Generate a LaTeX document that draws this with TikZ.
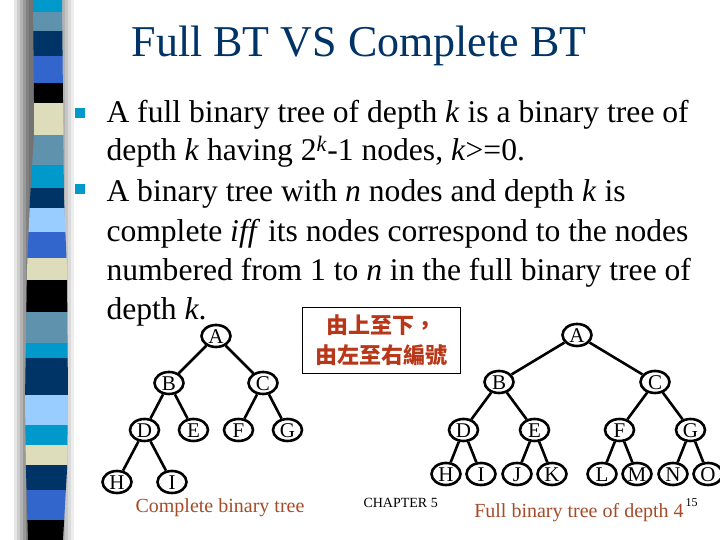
\documentclass[tikz,border=0pt]{standalone}
\usepackage{fontspec}
\setmainfont{Liberation Serif}
\newfontfamily\cjk{Noto Sans CJK TC}
\usetikzlibrary{positioning,shapes}

\definecolor{titleblue}{HTML}{003366}
\definecolor{bulletblue}{HTML}{0099CC}
\definecolor{capbrown}{RGB}{165,75,40}
\definecolor{cjkred}{RGB}{185,55,25}
\definecolor{stripecyan}{HTML}{0099CC}
\definecolor{stripesteel}{HTML}{5F93AD}
\definecolor{stripenavy}{HTML}{003366}
\definecolor{striperoyal}{HTML}{3366CC}
\definecolor{stripeblack}{HTML}{000000}
\definecolor{stripebeige}{HTML}{DDDDBB}
\definecolor{stripelight}{HTML}{99CCFF}

\begin{document}
\begin{tikzpicture}[
  x=1pt, y=1pt,
  tnode/.style={shape=ellipse, draw, line width=2.6pt, minimum width=29pt, minimum height=22pt,
    inner sep=0pt, text height=15pt, text depth=0pt, font=\fontsize{21}{21}\selectfont},
  bodytext/.style={anchor=base west, font=\fontsize{31.6}{38}\selectfont},
  caption/.style={anchor=base, text=capbrown, font=\fontsize{20}{24}\selectfont},
  bulletsq/.style={fill=bulletblue, minimum size=10pt, inner sep=0pt}
]
  \useasboundingbox (0,0) rectangle (720,540);
  \fill[white] (0,0) rectangle (720,540);

  % Side stripe with its shadow
  \foreach \xs/\g in {14/10, 17/20, 20/30, 23/40, 26/50}
    \fill[black!\g] (\xs,0) rectangle (\xs+3,540);
  \fill[black!55] (29,0) rectangle (36,540);
  \foreach \xs/\g in {62/30, 65/22, 68/14, 71/7}
    \fill[black!\g] (\xs,0) rectangle (\xs+3,540);
  \begin{scope}
    \clip (33,540) -- (34,440) -- (34,405) -- (30,340) -- (27,270) -- (25,140) -- (26,70) -- (28,0)
      -- (63,0) -- (67,70) -- (68,140) -- (67,270) -- (64,340) -- (63,440) -- (62,540) -- cycle;
    \foreach \ya/\yb/\col in {0/12/stripecyan, 12/31/stripesteel, 31/56/stripenavy, 56/83/striperoyal,
      83/103/stripeblack, 103/135/stripebeige, 135/165/stripesteel, 165/188/stripecyan,
      188/208/stripenavy, 208/232/stripelight, 232/258/striperoyal, 258/280/stripebeige,
      280/312/stripeblack, 312/343/stripesteel, 343/358/stripecyan, 358/395/stripenavy,
      395/425/stripelight, 425/445/stripecyan, 445/465/stripebeige, 465/490/stripenavy,
      490/520/striperoyal, 520/540/stripeblack}
      \fill[\col] (0,540-\ya) rectangle (100,540-\yb);
  \end{scope}

  % Title
  \node[anchor=base, text=titleblue, font=\fontsize{44}{50}\selectfont] (title) at (359,483) {Full BT VS Complete BT};

  % Bullets
  \node[bulletsq] (b1) at (80,427) {};
  \node[bulletsq] (b2) at (80,351) {};
  \node[bodytext] (t1) at (103,417) {A full binary tree of depth \textit{k} is a binary tree of};
  \node[bodytext] (t2) at (103,379) {depth \textit{k} having 2\textsuperscript{\textit{k}}-1 nodes, \textit{k}>=0.};
  \node[bodytext] (t3) at (103,338) {A binary tree with \textit{n} nodes and depth \textit{k} is};
  \node[bodytext] (t4) at (103,298) {complete \textit{iff} its nodes correspond to the nodes};
  \node[bodytext] (t5) at (103,259) {numbered from 1 to \textit{n} in the full binary tree of};
  \node[bodytext] (t6) at (103,220) {depth \textit{k}.};

  % Numbering note
  \node[draw, line width=0.8pt, minimum width=158pt, minimum height=66pt, align=center, text=cjkred,
    font=\cjk\bfseries\fontsize{22}{30}\selectfont] (order) at (381,200) {由上至下，\\由左至右編號};

  % Complete binary tree
  \begin{scope}[every node/.style={tnode}, line width=2.6pt, level distance=47pt,
    level 1/.style={sibling distance=94pt},
    level 2/.style={sibling distance=49pt},
    level 3/.style={sibling distance=55pt, level distance=52pt}]
    \node (cA) at (216,204) {A}
      child {node (cB) {B}
        child {node (cD) {D}
          child {node (cH) {H}}
          child {node (cI) {I}}
        }
        child {node (cE) {E}}
      }
      child {node (cC) {C}
        child {node (cF) {F}}
        child {node (cG) {G}}
      };
  \end{scope}

  % Full binary tree
  \begin{scope}[every node/.style={tnode}, line width=2.6pt,
    level 1/.style={sibling distance=156pt, level distance=47pt},
    level 2/.style={sibling distance=71pt, level distance=48pt},
    level 3/.style={sibling distance=35pt, level distance=44pt}]
    \node (fA) at (577,205) {A}
      child {node (fB) {B}
        child {node (fD) {D}
          child {node (fH) {H}}
          child {node (fI) {I}}
        }
        child {node (fE) {E}
          child {node (fJ) {J}}
          child {node (fK) {K}}
        }
      }
      child {node (fC) {C}
        child {node (fF) {F}
          child {node (fL) {L}}
          child {node (fM) {M}}
        }
        child {node (fG) {G}
          child {node (fN) {N}}
          child {node (fO) {O}}
        }
      };
  \end{scope}

  % Captions
  \node[caption] (capC) at (220,27) {Complete binary tree};
  \node[caption] (capF) at (579,22) {Full binary tree of depth 4};
  \node[anchor=base west, font=\fontsize{12}{14}\selectfont] (pagenum) at (682,33) {15};
  \node[anchor=base west, font=\fontsize{14}{16}\selectfont] (chap) at (360,32) {CHAPTER 5};
\end{tikzpicture}
\end{document}
